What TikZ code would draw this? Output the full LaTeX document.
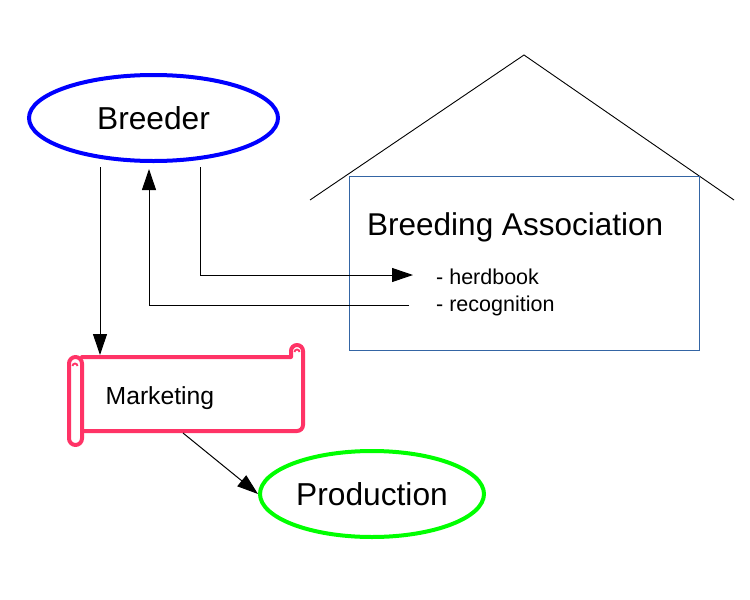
\documentclass[tikz,border=0pt]{standalone}
\usepackage{fontspec}
\setmainfont{Liberation Sans}
\usetikzlibrary{arrows.meta,shapes.geometric}
\definecolor{bluebr}{HTML}{0000FF}
\definecolor{greenpr}{HTML}{00FF00}
\definecolor{pinkmk}{HTML}{FF3366}
\definecolor{houseblue}{HTML}{3465A4}
\tikzset{
  oval/.style={ellipse, draw, line width=4pt, inner sep=0pt, font=\fontsize{31.7}{36}\selectfont},
  conn/.style={line width=1pt, -{Triangle[length=21pt,width=14pt]}},
  scrollline/.style={draw=pinkmk, line width=4pt, line join=round, line cap=round},
  smalltext/.style={anchor=base west, inner sep=0pt, font=\fontsize{21.5}{24}\selectfont}
}
\begin{document}
\begin{tikzpicture}[x=1pt,y=-1pt]
\useasboundingbox (0,0) rectangle (750,600);
% house
\draw[line width=0.9pt] (310,200) -- (524,55) -- (734,200);
\node[draw=houseblue, line width=1pt, minimum width=350pt, minimum height=174pt, inner sep=0pt, anchor=north west] (assoc) at (349.3,175.7) {};
\node[anchor=base west, inner sep=0pt, font=\fontsize{31.5}{36}\selectfont] (assoctitle) at (367,235) {Breeding Association};
\node[smalltext] (herd) at (436,284) {- herdbook};
\node[smalltext] (recog) at (436,311) {- recognition};
% breeder
\node[oval, draw=bluebr, minimum width=249pt, minimum height=86pt] (breeder) at (153.5,118) {Breeder};
% production
\node[oval, draw=greenpr, minimum width=224pt, minimum height=86pt] (production) at (372,494) {Production};
% marketing scroll
\draw[scrollline] (82,357) -- (291,357) -- (291,351) arc[start angle=180,end angle=0,radius=6pt] -- (303,425) arc[start angle=0,end angle=-90,radius=6pt] -- (82,431);
\draw[scrollline, rounded corners=6.5pt] (69,357) rectangle (82,445);
\draw[draw=pinkmk, line width=1.8pt] (72.5,366) arc[start angle=180,end angle=0,radius=2.5pt];
\draw[draw=pinkmk, line width=1.8pt] (294.5,352) arc[start angle=180,end angle=0,radius=2.5pt];
\node[anchor=base west, inner sep=0pt, font=\fontsize{24.7}{28}\selectfont] (marketing) at (105.5,404) {Marketing};
% connector coordinates
\coordinate (b1) at (100,167);
\coordinate (m1) at (100,355);
\coordinate (b2) at (200,167);
\coordinate (h1) at (413,275);
\coordinate (r1) at (409,305);
\coordinate (b3) at (149,169);
\coordinate (m2) at (183,433);
% connectors
\draw[conn] (b1) -- (m1);
\draw[conn] (b2) |- (h1);
\draw[conn] (r1) -| (b3);
\draw[conn] (m2) -- (production.west);
\end{tikzpicture}
\end{document}
